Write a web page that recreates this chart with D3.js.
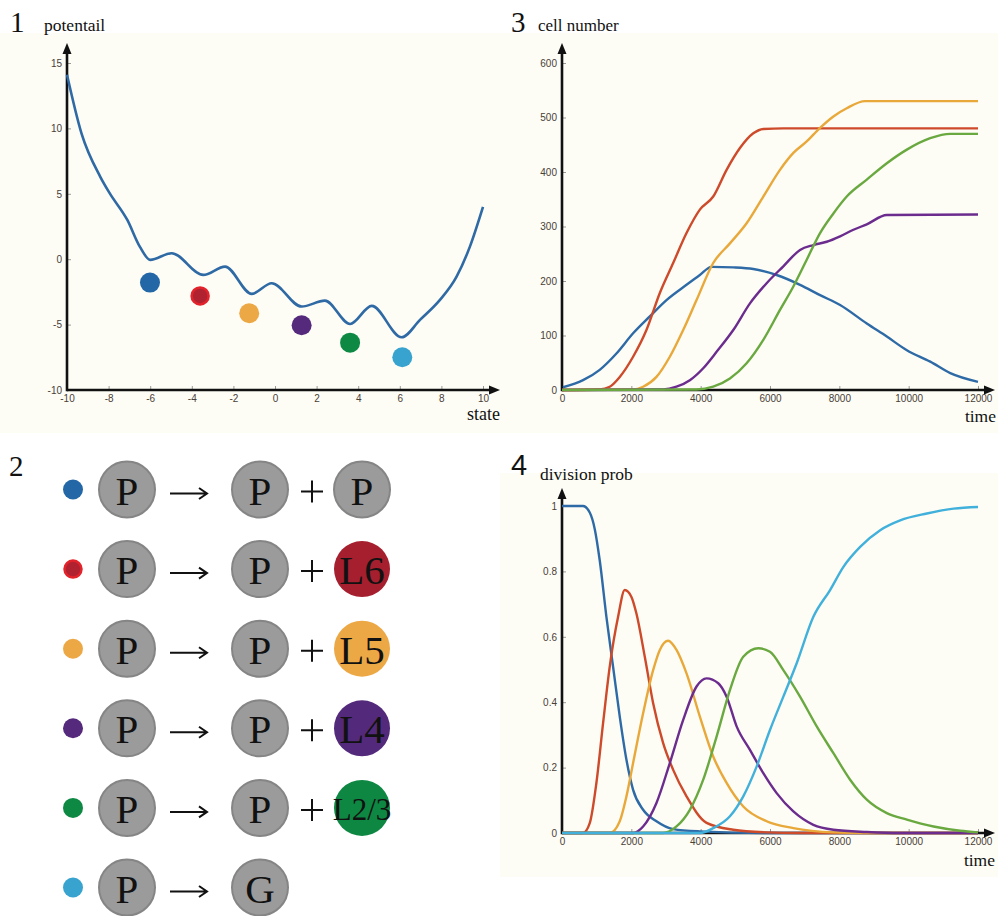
<!DOCTYPE html>
<html>
<head>
<meta charset="utf-8">
<script src="https://cdn.jsdelivr.net/npm/d3@7"></script>
<style>
  body { margin: 0; background: #fff; }
  .tick text { font-family: "Liberation Sans", Arial, sans-serif; font-size: 10px; fill: #4a4037; }
  .tick line { stroke: #999; }
  .serif { font-family: "Liberation Serif", "Times New Roman", serif; fill: #111; }
  .sans { font-family: "Liberation Sans", Arial, sans-serif; fill: #111; }
</style>
</head>
<body>
<div id="fig"></div>
<script>
// Panel 1: potential landscape
const potX = [-10, -9.3, -8.4, -7.95, -7.1, -6.5, -6, -4.97, -3.45, -2.4, -1.12, -0.16, 1.28, 2.4, 3.61, 4.65, 6.09, 6.97, 7.93, 8.73, 9.37, 10];
const potY = [14.1, 9.6, 6.3, 5.05, 3.0, 0.96, -0.05, 0.46, -1.2, -0.57, -2.65, -1.84, -3.62, -3.17, -4.95, -3.57, -5.97, -4.64, -3.11, -1.33, 0.96, 4.0];
const ballX = [-6.01, -3.6, -1.24, 1.28, 3.61, 6.12];
const ballY = [-1.79, -2.81, -4.13, -5.05, -6.38, -7.5];
const ballColors = ["#2467a6", "#b02230", "#eda846", "#552a7d", "#0e8944", "#38a3cf"];
const potTicksX = [-10, -8, -6, -4, -2, 0, 2, 4, 6, 8, 10];
const potTicksY = [-10, -5, 0, 5, 10, 15];

// Panel 2: division rules
const parents = ["P", "P", "P", "P", "P", "P"];
const daughters1 = ["P", "P", "P", "P", "P", "G"];
const daughters2 = ["P", "L6", "L5", "L4", "L2/3", null];
const daughterColors = ["#9b9b9b", "#a51f2e", "#eda846", "#532a7b", "#0e8742", null];

// Panel 3: cell number
const lineColors = ["#2e6aa6", "#cd4a2a", "#e8a83a", "#6b2c8e", "#6aa840", "#41b0da"];
const cellBlue = [[29,5],[607,18],[1088,37],[1570,67],[2051,104],[2533,135],[3014,165],[3592,193],[3977,211],[4314,226],[4940,225],[5518,222],[6192,211],[6866,193],[7444,174],[8022,156],[8792,122],[9370,98],[9948,73],[10622,52],[11200,31],[12000,15]];
const cellRed = [[0,0],[1088,1],[1377,6],[1666,24],[2051,61],[2436,110],[2822,178],[3207,233],[3592,288],[3977,331],[4362,355],[4748,404],[5133,444],[5518,471],[5807,479],[6385,480],[12000,480]];
const cellOrange = [[0,0],[2051,1],[2340,6],[2725,24],[3110,61],[3496,110],[3881,165],[4362,233],[4844,269],[5325,306],[5807,355],[6288,404],[6674,435],[7059,456],[7444,481],[7829,502],[8214,517],[8744,530],[12000,530]];
const cellPurple = [[0,0],[2918,1],[3303,6],[3688,18],[4074,40],[4459,70],[4940,110],[5422,159],[5903,196],[6385,227],[6866,257],[7251,266],[7636,272],[8022,282],[8407,294],[8792,304],[9370,321],[12000,322]];
const cellGreen = [[0,0],[3881,1],[4362,6],[4844,21],[5325,49],[5807,92],[6288,147],[6674,190],[7059,239],[7444,288],[7829,324],[8214,355],[8792,386],[9370,416],[9948,441],[10622,462],[11200,470],[12000,470]];
const cellTicksX = [0, 2000, 4000, 6000, 8000, 10000, 12000];
const cellTicksY = [0, 100, 200, 300, 400, 500, 600];

// Panel 4: division probability
const probBlue = [[0,1],[607,1],[800,0.98],[944,0.93],[1088,0.834],[1281,0.661],[1473,0.509],[1666,0.356],[1859,0.224],[2051,0.132],[2340,0.071],[2725,0.036],[3207,0.012],[3977,0.005],[5903,0],[12000,0]];
const probRed = [[0,0],[607,0],[800,0.03],[992,0.153],[1185,0.336],[1377,0.509],[1618,0.661],[1810,0.743],[2003,0.722],[2147,0.671],[2388,0.539],[2629,0.397],[2918,0.275],[3207,0.193],[3592,0.112],[4170,0.031],[4940,0.01],[5903,0.002],[6866,0],[12000,0]];
const probOrange = [[0,0],[1377,0],[1666,0.036],[1859,0.112],[2051,0.214],[2340,0.366],[2629,0.498],[2822,0.56],[3062,0.588],[3303,0.56],[3592,0.488],[3977,0.356],[4362,0.234],[4748,0.153],[5229,0.081],[5903,0.036],[6674,0.015],[7829,0.002],[8792,0],[12000,0]];
const probPurple = [[0,0],[2051,0],[2340,0.02],[2725,0.092],[3110,0.214],[3496,0.346],[3881,0.448],[4170,0.473],[4507,0.458],[4748,0.417],[5037,0.326],[5422,0.254],[5807,0.183],[6192,0.122],[6674,0.066],[7251,0.025],[7829,0.01],[8792,0.003],[9755,0],[12000,0]];
const probGreen = [[0,0],[2918,0],[3303,0.02],[3688,0.071],[4074,0.163],[4459,0.295],[4844,0.437],[5229,0.539],[5663,0.565],[5999,0.554],[6385,0.498],[6866,0.417],[7348,0.326],[7829,0.244],[8311,0.163],[8792,0.102],[9370,0.061],[9948,0.041],[10718,0.02],[11489,0.007],[12000,0.002]];
const probLight = [[0,0],[3977,0],[4362,0.015],[4844,0.051],[5229,0.112],[5614,0.203],[5999,0.315],[6385,0.417],[6770,0.519],[7251,0.661],[7733,0.743],[8118,0.814],[8600,0.875],[9178,0.926],[9755,0.956],[10525,0.977],[11296,0.992],[12000,0.997]];
const probTicksY = [0, 0.2, 0.4, 0.6, 0.8, 1];

const svg = d3.select("#fig").append("svg")
    .attr("width", 998)
    .attr("height", 916);

// cream backgrounds
svg.append("rect").attr("x", 0).attr("y", 33).attr("width", 998).attr("height", 400).attr("fill", "#fdfdf6");
svg.append("rect").attr("x", 500).attr("y", 473).attr("width", 498).attr("height", 404).attr("fill", "#fdfdf6");

// plain hyphen minus like the original figure
const plain = d => String(d);

function axesWithArrows(x, y, ticksX, ticksY, topY, rightX) {
    const x0 = x.range()[0], y0 = y.range()[0];
    svg.append("g")
        .attr("transform", `translate(0,${y0})`)
        .call(d3.axisBottom(x).tickValues(ticksX).tickSize(-4).tickPadding(5).tickFormat(plain))
        .call(g => g.select(".domain").remove());
    svg.append("g")
        .attr("transform", `translate(${x0},0)`)
        .call(d3.axisLeft(y).tickValues(ticksY).tickSize(-4).tickPadding(5).tickFormat(plain))
        .call(g => g.select(".domain").remove())
        .call(g => g.selectAll(".tick").filter(d => d === ticksY[0]).select("line").remove());
    // axis lines with arrow heads
    svg.append("line").attr("x1", x0).attr("y1", y0).attr("x2", rightX - 8).attr("y2", y0)
        .attr("stroke", "#111").attr("stroke-width", 2.6);
    svg.append("line").attr("x1", x0).attr("y1", y0 + 1.3).attr("x2", x0).attr("y2", topY + 8)
        .attr("stroke", "#111").attr("stroke-width", 2.6);
    svg.append("path").attr("d", `M${rightX},${y0} L${rightX - 11},${y0 - 4.5} L${rightX - 11},${y0 + 4.5} Z`).attr("fill", "#111");
    svg.append("path").attr("d", `M${x0},${topY} L${x0 - 4.5},${topY + 11} L${x0 + 4.5},${topY + 11} Z`).attr("fill", "#111");
}

function label(x, y, txt, size, anchor, cls) {
    svg.append("text").attr("class", cls || "serif")
        .attr("x", x).attr("y", y)
        .attr("text-anchor", anchor || "start")
        .style("font-size", size + "px")
        .text(txt);
}

// ---------- Panel 1 ----------
const x1 = d3.scaleLinear().domain([-10, 10]).range([67, 483]);
const y1 = d3.scaleLinear().domain([-10, 15]).range([390, 63]);
axesWithArrows(x1, y1, potTicksX, potTicksY, 43, 500);

svg.append("path")
    .datum(potX.map((d, i) => [d, potY[i]]))
    .attr("fill", "none")
    .attr("stroke", "#2f6aa5")
    .attr("stroke-width", 2.6)
    .attr("d", d3.line().x(d => x1(d[0])).y(d => y1(d[1])).curve(d3.curveMonotoneX));

svg.selectAll(".ball")
    .data(ballX)
    .enter().append("circle")
    .attr("cx", d => x1(d))
    .attr("cy", (d, i) => y1(ballY[i]))
    .attr("r", (d, i) => i === 1 ? 8.5 : 10)
    .attr("fill", (d, i) => ballColors[i])
    .attr("stroke", (d, i) => i === 1 ? "#e3232b" : "none")
    .attr("stroke-width", 2.5);

label(10, 32, "1", 29);
label(44, 31, "potentail", 17.5);
label(500, 420, "state", 18, "end");

// ---------- Panel 2 ----------
const rowData = parents.map((p, i) => ({ p: p, d1: daughters1[i], d2: daughters2[i], c2: daughterColors[i], dot: ballColors[i], i: i }));
const rowY = d3.scaleLinear().domain([0, 5]).range([489.5, 887.5]);
const rows = svg.append("g").selectAll("g")
    .data(rowData)
    .enter().append("g")
    .attr("transform", d => `translate(0,${rowY(d.i)})`);

rows.append("circle")
    .attr("cx", 73).attr("cy", 0)
    .attr("r", d => d.i === 1 ? 8.5 : 10)
    .attr("fill", d => d.dot)
    .attr("stroke", d => d.i === 1 ? "#e3232b" : "none")
    .attr("stroke-width", 2.5);

const grey = "#9b9b9b";
function cell(sel, cx, txtFn, fillFn) {
    sel.append("circle")
        .attr("cx", cx).attr("cy", 0).attr("r", 28)
        .attr("fill", fillFn)
        .attr("stroke", d => fillFn(d) === grey ? "#858585" : "none")
        .attr("stroke-width", 2);
    sel.append("text").attr("class", "serif")
        .attr("x", cx).attr("y", d => txtFn(d) === "L2/3" ? 12 : 15)
        .attr("text-anchor", "middle")
        .style("font-size", d => (txtFn(d) === "L2/3" ? 31 : 41) + "px")
        .text(txtFn);
}

cell(rows, 127, d => d.p, () => grey);
cell(rows, 260, d => d.d1, () => grey);

// reaction arrows
rows.append("path")
    .attr("d", "M170,4 L206,4 M199,-1.5 L207,4 L199,9.5")
    .attr("fill", "none").attr("stroke", "#111").attr("stroke-width", 2);

const withSecond = rows.filter(d => d.d2 !== null);
withSecond.append("path")
    .attr("d", "M301,2 L323,2 M312,-9 L312,13")
    .attr("fill", "none").attr("stroke", "#111").attr("stroke-width", 2);
cell(withSecond, 362, d => d.d2, d => d.c2);

label(9, 476, "2", 29);

// ---------- Panel 3 ----------
const x3 = d3.scaleLinear().domain([0, 12000]).range([562, 978]);
const y3 = d3.scaleLinear().domain([0, 600]).range([390, 63]);
axesWithArrows(x3, y3, cellTicksX, cellTicksY, 43, 995);

const cellSeries = [cellBlue, cellRed, cellOrange, cellPurple, cellGreen];
const line3 = d3.line().x(d => x3(d[0])).y(d => y3(d[1])).curve(d3.curveMonotoneX);
svg.append("g").selectAll("path")
    .data(cellSeries)
    .enter().append("path")
    .attr("fill", "none")
    .attr("stroke", (d, i) => lineColors[i])
    .attr("stroke-width", 2.4)
    .attr("d", line3);

label(511, 32, "3", 29);
label(538, 31, "cell number", 17);
label(996, 422, "time", 17.5, "end");

// ---------- Panel 4 ----------
const x4 = d3.scaleLinear().domain([0, 12000]).range([562, 978]);
const y4 = d3.scaleLinear().domain([0, 1]).range([833, 506]);
axesWithArrows(x4, y4, cellTicksX, probTicksY, 488, 995);

const probSeries = [probBlue, probRed, probOrange, probPurple, probGreen, probLight];
const line4 = d3.line().x(d => x4(d[0])).y(d => y4(d[1])).curve(d3.curveMonotoneX);
svg.append("g").selectAll("path")
    .data(probSeries)
    .enter().append("path")
    .attr("fill", "none")
    .attr("stroke", (d, i) => lineColors[i])
    .attr("stroke-width", 2.4)
    .attr("d", line4);

label(511, 475, "4", 29, "start", "sans");
label(540, 480, "division prob", 17.5);
label(995, 866, "time", 17.5, "end");
</script>
</body>
</html>
